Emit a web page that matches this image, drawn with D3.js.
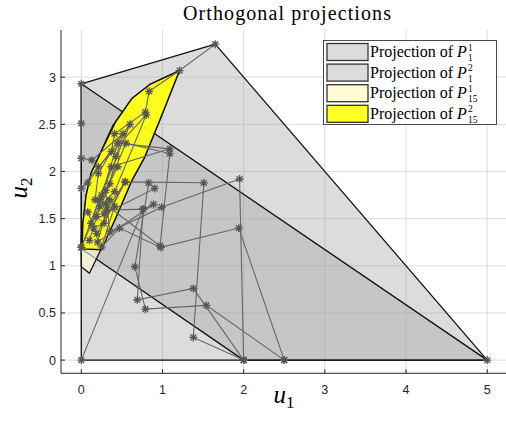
<!DOCTYPE html>
<html>
<head>
<meta charset="utf-8">
<script src="https://cdn.jsdelivr.net/npm/d3@7"></script>
<style>
  html, body { margin: 0; padding: 0; background: #fff; }
  svg { display: block; }
</style>
</head>
<body>
<svg id="chart" width="506" height="430"></svg>
<script>
// ---- data ----
const xTicks = [0, 1, 2, 3, 4, 5];
const yTicks = [0, 0.5, 1, 1.5, 2, 2.5, 3];

// projections of P_1 (two grey sets)
const projP1a = [[0, 0], [5, 0], [1.65, 3.35], [0, 2.93]];
const projP1b = [[0, 2.93], [5, 0], [2, 0], [0, 1.18]];

// projections of P_15 (pale and bright yellow)
const projP15a = [[1.21, 3.07], [0.97, 2.55], [0.78, 2.15], [0.62, 1.9], [0.41, 1.48], [0.19, 1.08],
  [0.1, 0.92], [0, 0.99], [0, 1.3], [0.06, 1.75], [0.12, 1.98], [0.39, 2.49], [0.62, 2.77], [0.84, 2.92]];
const projP15b = [[1.21, 3.07], [0.97, 2.55], [0.78, 2.15], [0.62, 1.9], [0.41, 1.48], [0.25, 1.17],
  [0.01, 1.18], [0.02, 1.45], [0.06, 1.75], [0.12, 1.98], [0.25, 2.22], [0.42, 2.52], [0.62, 2.77], [0.84, 2.92]];

// iterate paths (grey lines with * markers)
const paths = [
  [[1.65, 3.35], [1.21, 3.07], [0.835, 2.85], [0.79, 2.63], [0.41, 2.40], [0.37, 2.21], [0.21, 1.98], [0.17, 1.70]],
  [[0, 2.93], [0, 2.51], [0, 2.14], [0.13, 2.12], [0.515, 2.40], [0.43, 2.16], [0.35, 1.87], [0.19, 1.52]],
  [[0, 1.82], [0.21, 2.05], [0.80, 2.60], [0.41, 1.785], [0.23, 1.63], [0.10, 1.27]],
  [[0, 0], [0.76, 1.60], [0.31, 1.59], [0.54, 1.89], [0.19, 1.34], [0.08, 1.57]],
  [[2.5, 0], [1.94, 1.40], [0.98, 1.195], [0.47, 1.40], [0.25, 1.20], [0.41, 1.63]],
  [[2, 0], [1.95, 1.92], [0.99, 1.62], [0.35, 1.36], [0.30, 1.80], [0.45, 2.05]],
  [[2, 0], [1.38, 0.24], [1.51, 1.88], [0.54, 1.89], [0.28, 1.45], [0.15, 1.40]],
  [[2, 0], [1.38, 0.76], [0.69, 0.64], [0.76, 1.60], [0.89, 1.65], [0.20, 1.25], [0.35, 1.70]],
  [[2.5, 0], [1.54, 0.58], [0.79, 0.54], [0.66, 0.99], [0.83, 1.88], [0.905, 1.82], [0.28, 1.55]],
  [[0, 1.195], [0.37, 2.05], [1.09, 2.24], [0.45, 2.30], [0.25, 1.75]],
  [[0, 1.195], [0.55, 2.30], [1.09, 2.19], [0.97, 1.21], [0.30, 1.65]],
  [[0.08, 1.88], [0.60, 2.50], [0.22, 1.70], [0.12, 1.45]],
  [[5, 0]]
];

const legendItems = [
  { sup: '1', sub: '1', fill: '#a0a0a0', op: 0.37 },
  { sup: '2', sub: '1', fill: '#a0a0a0', op: 0.37 },
  { sup: '1', sub: '15', fill: '#fffbd2', op: 1 },
  { sup: '2', sub: '15', fill: '#ffff22', op: 1 }
];

// ---- drawing ----
const svg = d3.select('#chart');
const x = d3.scaleLinear().domain([-0.25, 5.25]).range([61, 507.5]);
const y = d3.scaleLinear().domain([-0.14, 3.5]).range([373.3, 30]);
const axisCol = '#262626';

const gridG = svg.append('g');
gridG.selectAll('line.gx').data(xTicks).join('line')
  .attr('x1', d => x(d)).attr('x2', d => x(d))
  .attr('y1', y.range()[0]).attr('y2', y.range()[1])
  .attr('stroke', '#dcdcdc').attr('stroke-width', 1);
gridG.selectAll('line.gy').data(yTicks).join('line')
  .attr('y1', d => y(d)).attr('y2', d => y(d))
  .attr('x1', x.range()[0]).attr('x2', x.range()[1])
  .attr('stroke', '#dcdcdc').attr('stroke-width', 1);

const line = d3.line().x(d => x(d[0])).y(d => y(d[1]));
const poly = pts => line(pts) + 'Z';

const polyG = svg.append('g');
[projP1a, projP1b].forEach(p => {
  polyG.append('path').attr('d', poly(p))
    .attr('fill', '#a0a0a0').attr('fill-opacity', 0.37)
    .attr('stroke', '#111').attr('stroke-width', 1.3).attr('stroke-linejoin', 'round');
});
polyG.append('path').attr('d', poly(projP15a))
  .attr('fill', '#fffbd0').attr('fill-opacity', 0.6)
  .attr('stroke', '#111').attr('stroke-width', 1.3).attr('stroke-linejoin', 'round');
polyG.append('path').attr('d', poly(projP15b))
  .attr('fill', '#ffff00').attr('fill-opacity', 0.85)
  .attr('stroke', '#111').attr('stroke-width', 1.3).attr('stroke-linejoin', 'round');

const trajG = svg.append('g');
trajG.selectAll('path').data(paths).join('path')
  .attr('d', d => line(d))
  .attr('fill', 'none').attr('stroke', '#656565').attr('stroke-width', 1.1);

const star = 'M0,-4V4M-4,0H4M-2.9,-2.9L2.9,2.9M-2.9,2.9L2.9,-2.9';
trajG.selectAll('path.m').data(paths.flat()).join('path')
  .attr('class', 'm')
  .attr('transform', d => `translate(${x(d[0])},${y(d[1])})`)
  .attr('d', star)
  .attr('fill', 'none').attr('stroke', '#555').attr('stroke-width', 1.3);

// axes (left + bottom, ticks inward)
const axG = svg.append('g');
axG.append('line').attr('x1', x.range()[0]).attr('x2', x.range()[0])
  .attr('y1', y.range()[0]).attr('y2', y.range()[1]).attr('stroke', axisCol);
axG.append('line').attr('x1', x.range()[0]).attr('x2', x.range()[1])
  .attr('y1', y.range()[0]).attr('y2', y.range()[0]).attr('stroke', axisCol);
axG.selectAll('line.tx').data(xTicks).join('line')
  .attr('x1', d => x(d)).attr('x2', d => x(d))
  .attr('y1', y.range()[0]).attr('y2', y.range()[0] - 4).attr('stroke', axisCol);
axG.selectAll('line.ty').data(yTicks).join('line')
  .attr('y1', d => y(d)).attr('y2', d => y(d))
  .attr('x1', x.range()[0]).attr('x2', x.range()[0] + 4).attr('stroke', axisCol);
axG.selectAll('text.tx').data(xTicks).join('text')
  .attr('x', d => x(d)).attr('y', 394)
  .attr('text-anchor', 'middle')
  .attr('font-family', 'Liberation Sans, Arial, sans-serif').attr('font-size', 12.5)
  .attr('fill', axisCol).text(d => d);
axG.selectAll('text.ty').data(yTicks).join('text')
  .attr('x', 56).attr('y', d => y(d) + 4.5)
  .attr('text-anchor', 'end')
  .attr('font-family', 'Liberation Sans, Arial, sans-serif').attr('font-size', 12.5)
  .attr('fill', axisCol).text(d => d);

// title and axis labels
const serif = 'Liberation Serif, Times New Roman, serif';
svg.append('text').attr('x', 287).attr('y', 20).attr('text-anchor', 'middle')
  .attr('font-family', serif).attr('font-size', 20).attr('fill', '#000')
  .attr('textLength', 208).attr('lengthAdjust', 'spacing')
  .text('Orthogonal projections');

const xl = svg.append('text').attr('x', 284).attr('y', 403).attr('text-anchor', 'middle')
  .attr('font-family', serif).attr('font-size', 25).attr('fill', '#000');
xl.append('tspan').attr('font-style', 'italic').text('u');
xl.append('tspan').attr('font-size', 17).attr('dy', 5).text('1');

const yl = svg.append('text').attr('transform', 'translate(27,188) rotate(-90)')
  .attr('text-anchor', 'middle')
  .attr('font-family', serif).attr('font-size', 25).attr('fill', '#000');
yl.append('tspan').attr('font-style', 'italic').text('u');
yl.append('tspan').attr('font-size', 17).attr('dy', 5).text('2');

// legend
const lg = svg.append('g');
lg.append('rect').attr('x', 323.5).attr('y', 40.5).attr('width', 173).attr('height', 84)
  .attr('fill', '#fff').attr('stroke', '#4a4a4a').attr('stroke-width', 1);
legendItems.forEach((it, i) => {
  const cy = 52 + i * 20.6;
  lg.append('rect').attr('x', 327).attr('y', cy - 8.5).attr('width', 41).attr('height', 17)
    .attr('fill', '#fff');
  lg.append('rect').attr('x', 327).attr('y', cy - 8.5).attr('width', 41).attr('height', 17)
    .attr('fill', it.fill).attr('fill-opacity', it.op)
    .attr('stroke', '#333').attr('stroke-width', 1.3);
  const t = lg.append('text').attr('x', 370).attr('y', cy + 5)
    .attr('font-family', serif).attr('font-size', 16).attr('fill', '#000');
  t.append('tspan').text('Projection of ');
  t.append('tspan').attr('font-style', 'italic').text('P');
  const w = t.node().getComputedTextLength();
  t.append('tspan').attr('font-size', 9.5).attr('dx', 1).attr('dy', -6.5).text(it.sup);
  t.append('tspan').attr('font-size', 9.5).attr('x', 370 + w + 1).attr('dy', 10.7).text(it.sub);
});
</script>
</body>
</html>
